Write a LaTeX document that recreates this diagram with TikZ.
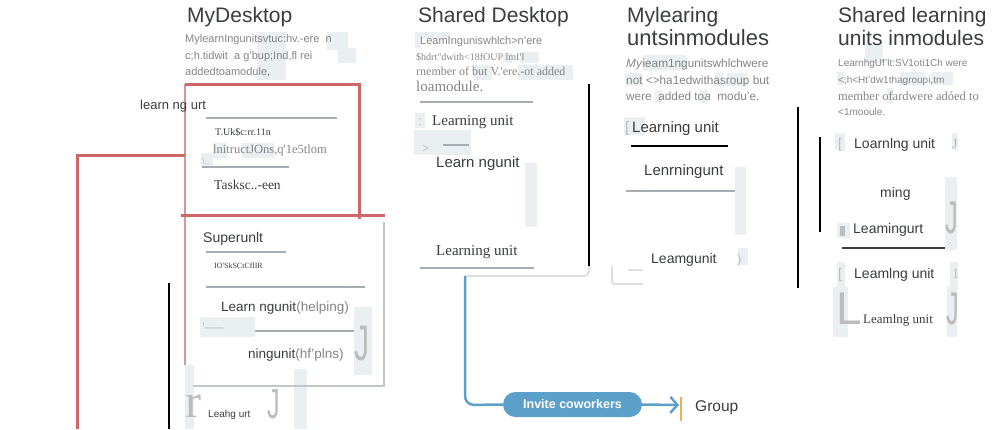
\documentclass[tikz,border=0pt]{standalone}
\usepackage{fontspec}
\setmainfont{Liberation Sans}
\newfontfamily\srf{Liberation Serif}
\usetikzlibrary{arrows.meta}
\definecolor{redc}{RGB}{206,104,104}
\definecolor{redl}{RGB}{216,150,150}
\definecolor{grl}{RGB}{168,173,177}
\definecolor{patchc}{RGB}{234,239,242}
\definecolor{dark}{RGB}{58,60,62}
\definecolor{desc}{RGB}{132,132,132}
\definecolor{bluec}{RGB}{92,160,202}
\definecolor{orangec}{RGB}{236,176,84}
\definecolor{ghost}{RGB}{188,188,188}
\definecolor{faint}{RGB}{222,222,222}
\begin{document}
\begin{tikzpicture}[x=1pt,y=-1pt,
  txt/.style={anchor=base west, inner sep=0pt, text=dark},
  title/.style={txt, font=\fontsize{21}{21}\selectfont},
  dsc/.style={txt, text=desc, font=\fontsize{11}{11}\selectfont},
  dscs/.style={txt, text=desc, font=\srf\fontsize{12}{12}\selectfont},
  unit/.style={txt, font=\fontsize{15}{15}\selectfont},
  sunit/.style={txt, font=\srf\fontsize{15}{15}\selectfont},
  ghostt/.style={txt, text=ghost},
  patch/.style={fill=patchc, draw=none},
  sepline/.style={draw=grl, line width=1.2pt},
  blk/.style={draw=black, line width=2pt},
  redthick/.style={draw=redc, line width=3pt},
  redthin/.style={draw=redl, line width=1.5pt}]
\useasboundingbox (0,0) rectangle (1008,429);

% ---------- background patches ----------
\foreach \a/\b/\c/\d in {
  327/32/348/50, 338/48/356/63, 257/32/286/80,
  213/143/227/158, 242/143/274/158, 201/153/213/168,
  415/32/450/39, 415/32/421/48, 503/53/512/63, 520/52/539/63, 473/65/492/80, 518/65/573/80,
  415/113/425/128, 414/130/471/155, 525/163/537/227,
  643/55/687/70, 625/73/642/86, 715/73/723/86, 727/73/747/86, 655/90/662/103, 700/90/707/103,
  624/117/645/135, 735/167/746/235, 738/248/748/265,
  865/45/883/63, 837/72/845/85, 900/72/925/85, 931/72/953/85, 887/88/893/103,
  835/133/845/150, 952/133/958/150, 945/177/957/250, 837/223/850/238,
  837/262/845/290, 950/262/958/290, 833/287/848/337, 947/287/957/337,
  185/365/194/429, 294/369/307/429, 200/317/255/337, 354/307/372/375}
  \fill[patch] (\a,\b) rectangle (\c,\d);

% ---------- titles ----------
\node[title] (t1) at (187,22) {MyDesktop};
\node[title] (t2) at (418,22) {Shared Desktop};
\node[title] (t3a) at (627,22) {Mylearing};
\node[title, font=\fontsize{22}{22}\selectfont] (t3b) at (627,45) {untsinmodules};
\node[title] (t4a) at (838,22) {Shared learning};
\node[title] (t4b) at (838,45) {units inmodules};

% ---------- descriptions ----------
\node[dsc] (d1a) at (185,42) {MylearnIngunitsvtuc:hv.-ere\ \ n};
\node[dsc] (d1b) at (185,59) {c;h.tidwit\ \ a g'bup;Ind,fl rei};
\node[dsc] (d1c) at (185,75) {addedtoamodule,};

\node[dsc] (d2a) at (420,44) {LeamInguniswhlch>n'ere};
\node[dscs, font=\srf\fontsize{10}{10}\selectfont] (d2b) at (416,60) {\$hdrt"dwith<18fOUP lmI'I};
\node[dscs] (d2c) at (416,75) {rnember of but V.'ere.-ot added};
\node[dscs, font=\srf\fontsize{15}{15}\selectfont] (d2d) at (416,91) {loamodule.};

\node[dsc, font=\fontsize{11.8}{11.8}\selectfont] (d3a) at (626,67) {\textit{My}ieam1ngunitswhlchwere};
\node[dsc, font=\fontsize{11.8}{11.8}\selectfont] (d3b) at (626,84) {not <>ha1edwithasroup but};
\node[dsc, font=\fontsize{11.8}{11.8}\selectfont] (d3c) at (626,100) {were\ \ added to\textit{a}\ \ modu'e.};

\node[dsc, font=\fontsize{10}{10}\selectfont] (d4a) at (838,66) {LearnhgUf'lt:SV1oti1Ch were};
\node[dsc, font=\fontsize{10}{10}\selectfont] (d4b) at (838,83) {<;h<Ht'dw1thagroupi,tm};
\node[dscs, font=\srf\fontsize{12.5}{12.5}\selectfont] (d4c) at (838,100) {member ofardwere adóed to};
\node[dsc, font=\fontsize{10}{10}\selectfont] (d4d) at (838,115) {<1mooule.};

% ---------- red frame and connector ----------
\coordinate (rTL) at (185,84);
\coordinate (rTR) at (359,84);
\coordinate (rBR) at (359,219);
\coordinate (rBL) at (181,215);
\coordinate (rBE) at (385,215);
\coordinate (rJ) at (185,155);
\coordinate (rK) at (77,155);
\coordinate (rEnd) at (77,429);
\coordinate (rLow) at (185,365);
\draw[redthin] (rTL) -- (rLow);
\draw[redthick] (rTL) -- (rTR) -- (rBR);
\draw[redthick] (rBL) -- (rBE);
\draw[redthick] (rJ) -- (rK) -- (rEnd);

% ---------- left box ----------
\node[txt, font=\fontsize{13}{13}\selectfont] (lu) at (140,109) {learn ng urt};
\draw[sepline] (206,118) -- (337,118);
\node[txt, font=\srf\fontsize{10}{10}\selectfont] (lt1) at (215,135) {T.Uk\$c:rr.11n};
\node[txt, text=desc, font=\srf\fontsize{12.5}{12.5}\selectfont] (lt2) at (213,153) {lnitructJOns,q'1e5tlom};
\node[txt, text=ghost, font=\fontsize{9}{9}\selectfont] (lt3) at (202,164) {\textbackslash..};
\draw[sepline] (202,167) -- (289,167);
\node[txt, font=\srf\fontsize{13.5}{13.5}\selectfont] (lt4) at (214,189) {Tasksc..-een};

% ---------- superunit card ----------
\draw[draw=grl!70, line width=1.2pt] (384,222) -- (384,386) -- (193,386);
\node[txt, font=\fontsize{14}{14}\selectfont] (su) at (203,242) {Superunlt};
\draw[sepline] (206,252) -- (286,252);
\node[txt, font=\srf\fontsize{8}{8}\selectfont] (su1) at (214,268) {IO'SkSCtCflIR};
\draw[sepline] (206,287) -- (365,287);
\node[txt, font=\fontsize{13.5}{13.5}\selectfont] (su2) at (221,311) {Learn ngunit\textcolor{desc}{(helping)}};
\node[txt, text=ghost, font=\fontsize{12}{12}\selectfont] (su3) at (202,331) {'-----};
\draw[sepline] (255,331) -- (354,331);
\node[ghostt, font=\fontsize{50}{50}\selectfont] (su4) at (354,360) {\scalebox{0.6}[1]{J}};
\node[txt, font=\fontsize{13.5}{13.5}\selectfont] (su5) at (248,358) {ningunit\textcolor{desc}{(hf'plns)}};

% below card
\node[ghostt, font=\srf\fontsize{48}{48}\selectfont] (br) at (185,417) {r};
\node[txt, font=\fontsize{10}{10}\selectfont] (bl) at (208,417) {Leahg urt};
\node[ghostt, font=\fontsize{42}{42}\selectfont] (bj) at (267,418) {\scalebox{0.6}[1]{J}};

% ---------- black bars ----------
\draw[blk] (169,283) -- (169,429);
\coordinate (sdTop) at (589,84);
\coordinate (sdBot) at (589,270);
\draw[blk] (sdTop) -- (sdBot);
\draw[blk] (798,107) -- (798,288);
\draw[blk] (820,137) -- (820,232);

% ---------- shared desktop column ----------
\draw[sepline] (420,102) -- (533,102);
\node[ghostt, font=\fontsize{13}{13}\selectfont] (sd0) at (418,125) {:};
\node[sunit] (sd1) at (432,125) {Learning unit};
\node[ghostt, font=\fontsize{12}{12}\selectfont] (sd2) at (422,152) {>};
\draw[sepline] (443,145) -- (469,145);
\node[unit] (sd3) at (436,167) {Learn ngunit};
\node[sunit] (sd4) at (436,255) {Learning unit};
\draw[sepline] (420,268) -- (534,268);

% ---------- my learning units column ----------
\node[ghostt, font=\fontsize{15}{15}\selectfont] (ml0) at (625,132) {[};
\node[unit] (ml1) at (632,132) {Learning unit};
\draw[draw=black, line width=1.3pt] (631,146) -- (728,146);
\node[unit] (ml2) at (644,175) {Lenrningunt};
\draw[draw=grl, line width=2pt] (626,191) -- (735,191);
\node[unit, font=\fontsize{14}{14}\selectfont] (ml3) at (651,263) {Leamgunit};
\node[ghostt, font=\fontsize{13}{13}\selectfont] (ml4) at (737,263) {)};

% faint bracket
\draw[faint, line width=2pt, rounded corners=3] (643,284) -- (612,284) -- (612,266);
\draw[faint, line width=2pt] (628,270) -- (643,270);

% ---------- shared learning column ----------
\node[ghostt, font=\fontsize{14}{14}\selectfont] (sl0) at (838,148) {[};
\node[unit, font=\fontsize{14}{14}\selectfont] (sl1) at (854,148) {Loarnlng unit};
\node[ghostt, font=\srf\fontsize{14}{14}\selectfont] (sl2) at (952,148) {J};
\node[unit, font=\fontsize{14}{14}\selectfont] (sl3) at (880,197) {ming};
\node[ghostt, font=\fontsize{46}{46}\selectfont] (sl4) at (945,233) {\scalebox{0.55}[1]{J}};
\fill[grl!80] (840,226) rectangle (845,236);
\node[unit, font=\fontsize{14}{14}\selectfont] (sl5) at (853,233) {Leamingurt};
\draw[draw=dark, line width=1.5pt] (842,248) -- (945,248);
\node[ghostt, font=\fontsize{14}{14}\selectfont] (sl6) at (838,278) {[};
\node[unit, font=\fontsize{14}{14}\selectfont] (sl7) at (854,278) {Leamlng unit};
\node[ghostt, font=\srf\fontsize{14}{14}\selectfont] (sl8) at (952,278) {1};
\node[ghostt, font=\fontsize{46}{46}\selectfont] (sl9) at (836,324) {L};
\node[sunit, font=\srf\fontsize{13}{13}\selectfont] (sl10) at (863,323) {Leamlng unit};
\node[ghostt, font=\fontsize{46}{46}\selectfont] (sl11) at (946,324) {\scalebox{0.55}[1]{J}};

% ---------- blue flow ----------
\coordinate (gA) at (589,266);
\coordinate (gB) at (589,276);
\coordinate (bTop) at (465,276);
\coordinate (bCorner) at (465,405);
\draw[faint, line width=2pt, rounded corners=5] (gA) -- (gB) -- (bTop);
\node[fill=bluec, rounded corners=12.5pt, minimum width=139pt, minimum height=25pt,
      inner sep=0pt, text=white, font=\bfseries\fontsize{12.5}{12.5}\selectfont] (pill) at (572.5,404.5) {Invite coworkers};
\draw[bluec, line width=2.5pt, rounded corners=9] (bTop) -- (bCorner) -- (pill.west);
\coordinate (arrEnd) at (679,405);
\draw[bluec, line width=2.5pt, -{Straight Barb[length=7pt,width=16pt,line width=2.5pt]}] (pill.east) -- (arrEnd);
\draw[orangec, line width=1.5pt] (681,397) -- (681,421);
\node[txt, font=\fontsize{15.5}{15.5}\selectfont] (grp) at (695,411) {Group};
\end{tikzpicture}
\end{document}
